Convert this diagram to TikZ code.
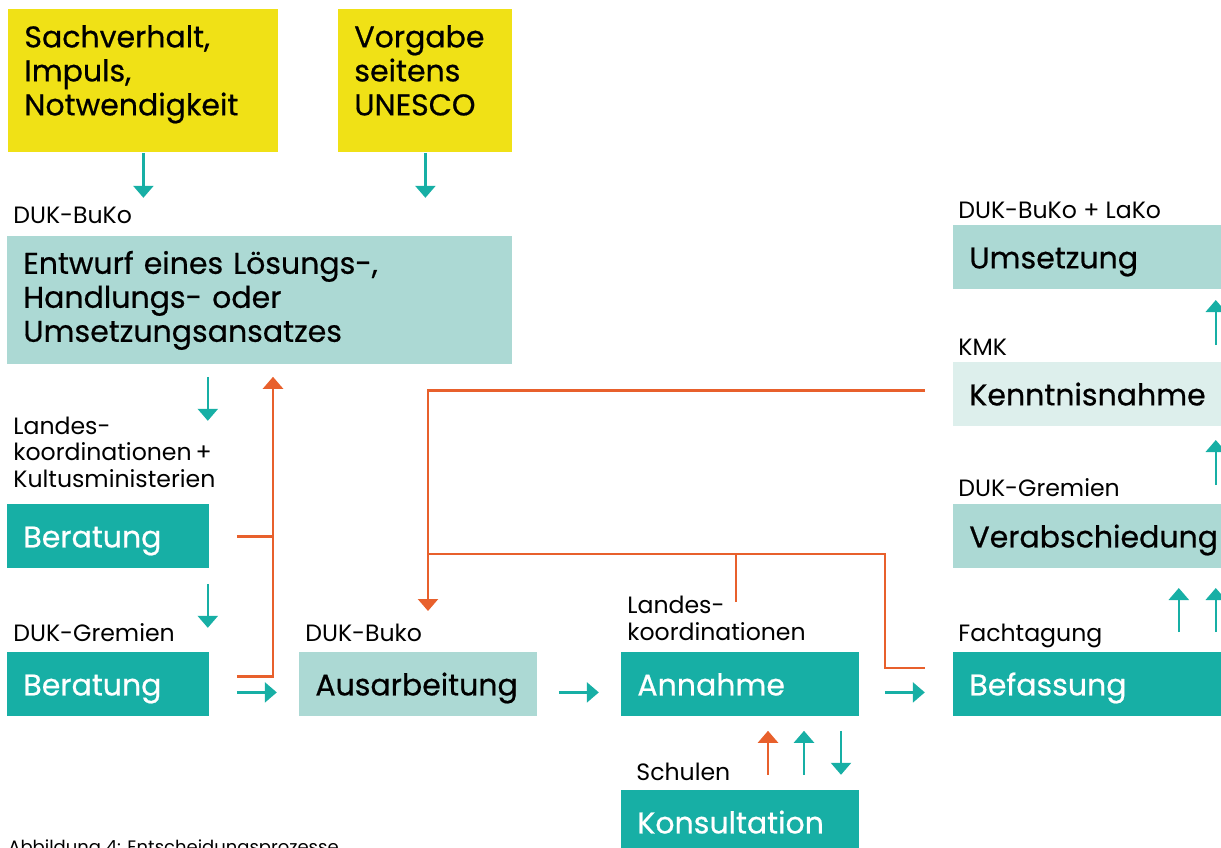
\documentclass[tikz,border=0pt]{standalone}
\usepackage{fontspec}
\setmainfont{Poppins}
\newfontfamily\mittel{Poppins}[FakeBold=0.6]
\usetikzlibrary{arrows.meta,calc}

\definecolor{gelb}{HTML}{F0E116}
\definecolor{petrol}{HTML}{17AFA5}
\definecolor{mint}{HTML}{ACD9D4}
\definecolor{hellmint}{HTML}{DDEFEC}
\definecolor{rot}{HTML}{E8602C}

\tikzset{
  box/.style={anchor=north west, inner xsep=8pt, inner ysep=0pt, align=left,
    font=\mittel\fontsize{15}{17}\selectfont},
  gelbbox/.style={box, fill=gelb, text height=19pt, text depth=52.5pt},
  einzeilig/.style={box, minimum height=32pt, text height=11pt, text depth=0pt},
  dunkel/.style={einzeilig, fill=petrol, text=white},
  hell/.style={einzeilig, fill=mint},
  blass/.style={einzeilig, fill=hellmint},
  lbl/.style={anchor=base west, inner sep=0pt, align=left,
    font=\fontsize{11.8}{13.25}\selectfont},
  pfeil/.style={petrol, line width=1.25pt, -{Triangle[width=10pt,length=6pt]}},
  rueck/.style={rot, line width=1.25pt},
  rueckpfeil/.style={rueck, -{Triangle[width=10pt,length=6pt]}}
}

\begin{document}
\begin{tikzpicture}[x=0.5pt,y=-0.5pt]
\useasboundingbox (0,0) rectangle (1221,847);

% Ausgangspunkte
\node[gelbbox, text width=119pt] (sach) at (8,9) {Sachverhalt,\\Impuls,\\Notwendigkeit};
\node[gelbbox, text width=71pt] (vorg) at (338,9) {Vorgabe\\seitens\\UNESCO};

% linke Spalte
\node[box, fill=mint, text width=236.5pt, minimum height=64pt] (entwurf) at (7,236)
  {Entwurf eines Lösungs-,\\Handlungs- oder\\Umsetzungsansatzes};
\node[dunkel, text width=85pt] (ber1) at (7,504) {Beratung};
\node[dunkel, text width=85pt] (ber2) at (7,652) {Beratung};

% untere Reihe
\node[hell, text width=103pt] (ausarb) at (299,652) {Ausarbeitung};
\node[dunkel, text width=103pt] (annahme) at (621,652) {Annahme};
\node[dunkel, text width=103pt] (konsult) at (621,790) {Konsultation};
\node[dunkel, text width=118pt] (befass) at (953,652) {Befassung};

% rechte Spalte
\node[hell, text width=118pt] (verab) at (953,504) {Verabschiedung};
\node[blass, text width=118pt] (kennt) at (953,362) {Kenntnisnahme};
\node[hell, text width=118pt] (umsetz) at (953,225) {Umsetzung};

% Beschriftungen
\node[lbl] (l-entwurf) at ($(entwurf.north west)+(6,-13)$) {DUK-BuKo};
\node[lbl, anchor=south west] (l-ber1) at ($(ber1.north west)+(6,-16)$)
  {Landes-\\koordinationen\,+\\Kultusministerien};
\node[lbl] (l-ber2) at ($(ber2.north west)+(6,-11)$) {DUK-Gremien};
\node[lbl] (l-ausarb) at ($(ausarb.north west)+(6,-11)$) {DUK-Buko};
\node[lbl, anchor=south west] (l-annahme) at ($(annahme.north west)+(6,-11)$)
  {Landes-\\koordinationen};
\node[lbl] (l-konsult) at ($(konsult.north west)+(15,-10)$) {Schulen};
\node[lbl] (l-befass) at ($(befass.north west)+(5,-11)$) {Fachtagung};
\node[lbl] (l-verab) at ($(verab.north west)+(5,-8)$) {DUK-Gremien};
\node[lbl] (l-kennt) at ($(kennt.north west)+(5,-7)$) {KMK};
\node[lbl] (l-umsetz) at ($(umsetz.north west)+(5,-7)$) {DUK-BuKo + LaKo};
\node[lbl, anchor=north west, font=\fontsize{9}{11}\selectfont] (caption) at (8,839)
  {Abbildung 4: Entscheidungsprozesse};

% Pfeile
\draw[pfeil] (sach.south) -- ++(0,45);
\draw[pfeil] (vorg.south) -- ++(0,45);
\draw[pfeil] ($(entwurf.south -| ber1.east)+(-2,12)$) -- ++(0,44);
\draw[pfeil] ($(ber1.south east)+(-2,15)$) -- ++(0,44);
\draw[pfeil] ($(ber2.east)+(27,8)$) -- ++(40,0);
\draw[pfeil] ($(ausarb.east)+(21,8)$) -- ++(40,0);
\draw[pfeil] ($(annahme.east)+(25,8)$) -- ++(40,0);
\draw[pfeil] ($(befass.north east)+(-43,-20)$) -- ++(0,-44);
\draw[pfeil] ($(befass.north east)+(-6,-20)$) -- ++(0,-44);
\draw[pfeil] ($(verab.north east)+(-6,-19)$) -- ++(0,-45);
\draw[pfeil] ($(kennt.north east)+(-6,-17)$) -- ++(0,-45);
\draw[rueckpfeil] ($(annahme.south west)+(147,58)$) -- ++(0,-44);
\draw[pfeil] ($(annahme.south west)+(183,58)$) -- ++(0,-44);
\draw[pfeil] ($(annahme.south west)+(220,14)$) -- ++(0,44);

% Rueckkopplungen
\draw[rueck] ($(ber1.east)+(27,0)$) -- ($(ber1.east)+(64,0)$);
\draw[rueckpfeil] ($(ber2.east)+(27,-8)$) -| ($(entwurf.south west)+(266,12)$);
\draw[rueckpfeil] ($(kennt.west)+(-28,-4)$) -| ($(ausarb.north west)+(129,-41)$);
\draw[rueck] ($(annahme.north west)+(115,-50)$) |- ($(ausarb.north west)+(129,-98)$);
\draw[rueck] ($(annahme.north west)+(115,-98)$) -| ($(annahme.north east)+(25,16)$)
  -- ($(befass.north west)+(-28,16)$);
\end{tikzpicture}
\end{document}
